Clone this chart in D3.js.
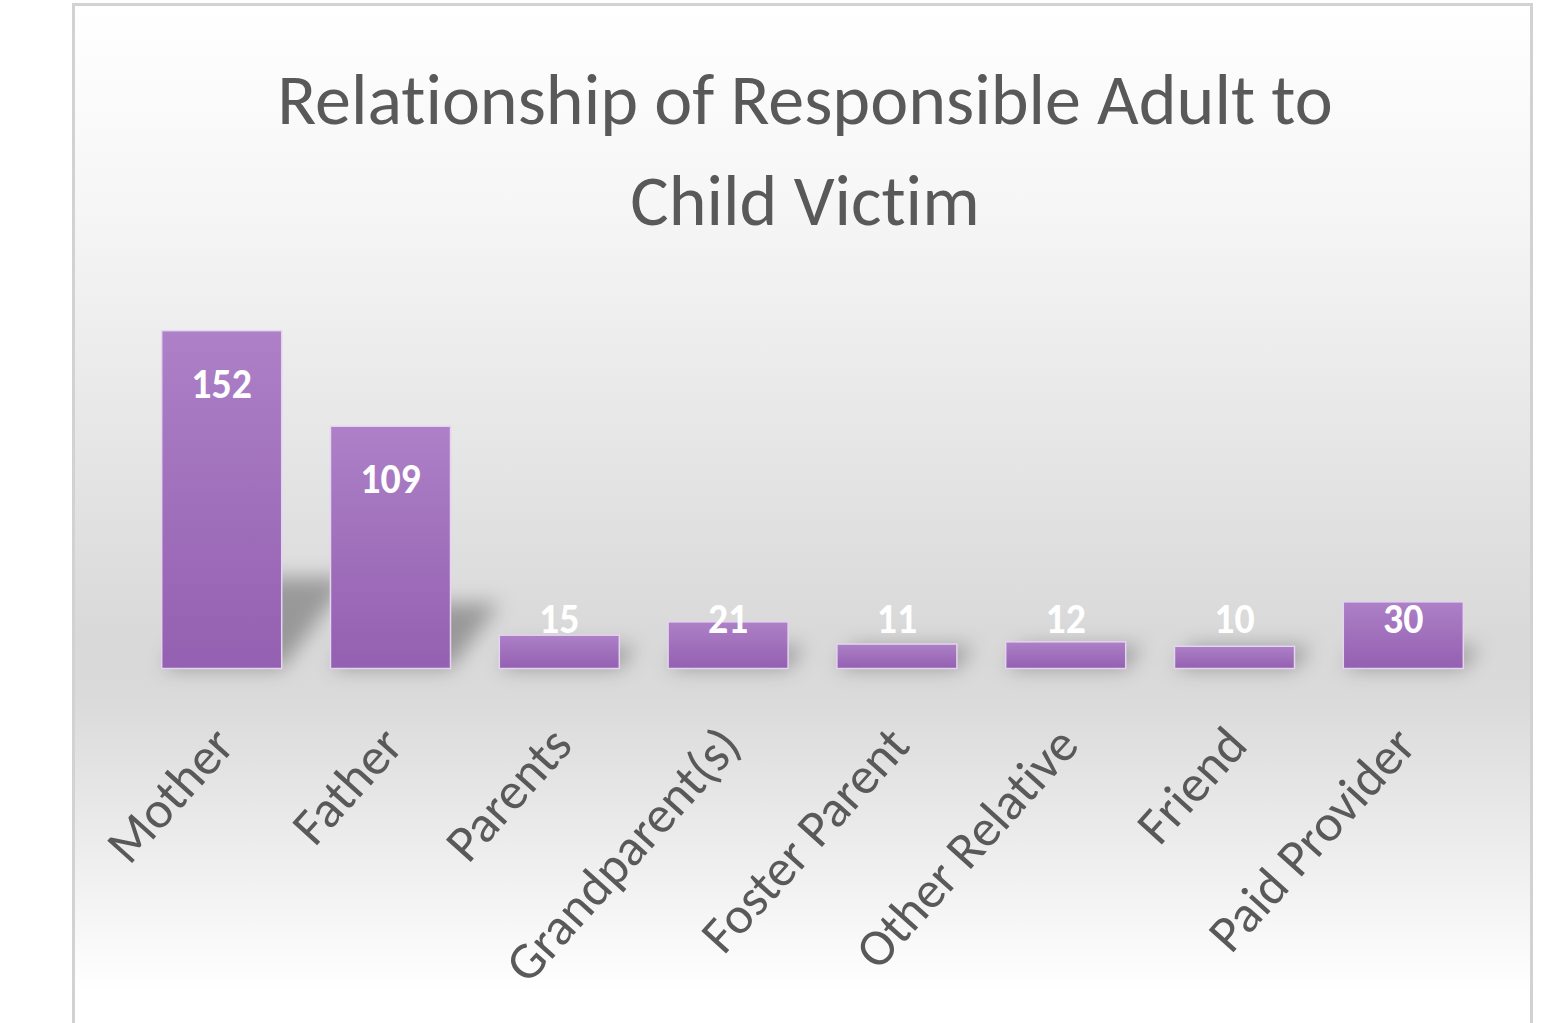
<!DOCTYPE html>
<html>
<head>
<meta charset="utf-8">
<script src="https://cdn.jsdelivr.net/npm/d3@7"></script>
<style>
  html, body { margin: 0; padding: 0; background: #ffffff; }
  svg { display: block; }
  text { font-variant-ligatures: none; font-feature-settings: "liga" 0, "clig" 0; }
</style>
</head>
<body>
<svg id="chart" width="1558" height="1023"></svg>
<script>
// Chart data
const categories = ["Mother", "Father", "Parents", "Grandparent(s)", "Foster Parent", "Other Relative", "Friend", "Paid Provider"];
const counts = [152, 109, 15, 21, 11, 12, 10, 30];
const titleLines = ["Relationship of Responsible Adult to", "Child Victim"];

const svg = d3.select("#chart");
const defs = svg.append("defs");

// Chart area background: soft vertical gray gradient
const bg = defs.append("linearGradient")
  .attr("id", "bgGrad").attr("gradientUnits", "userSpaceOnUse")
  .attr("x1", 0).attr("y1", 3).attr("x2", 0).attr("y2", 1023);
[[0, "#ffffff"], [0.2, "#f6f6f6"], [0.62, "#d9d9d9"], [0.68, "#dadada"], [0.97, "#ffffff"]]
  .forEach(([o, c]) => bg.append("stop").attr("offset", o).attr("stop-color", c));

// Bar fill: lighter lavender on top, deeper purple at the bottom
const barGrad = defs.append("linearGradient")
  .attr("id", "barGrad").attr("x1", 0).attr("y1", 0).attr("x2", 0).attr("y2", 1);
barGrad.append("stop").attr("offset", 0).attr("stop-color", "#ad80c7");
barGrad.append("stop").attr("offset", 1).attr("stop-color", "#9460b1");

// Blur for the perspective shadows cast behind the bars
defs.append("filter").attr("id", "shadowBlur")
  .attr("x", "-50%").attr("y", "-50%").attr("width", "200%").attr("height", "200%")
  .append("feGaussianBlur").attr("stdDeviation", 10);

svg.append("rect")
  .attr("x", 73.5).attr("y", 4.5).attr("width", 1458).attr("height", 1030)
  .attr("fill", "url(#bgGrad)")
  .attr("stroke", "#d2d2d2").attr("stroke-width", 3);

// Scales
const x = d3.scaleBand()
  .domain(categories)
  .range([137.3, 1487.7])
  .paddingInner(0.289)
  .paddingOuter(0.1445);

const y = d3.scaleLinear().domain([0, 160]).range([668.5, 312.9]);

// Shadows
svg.append("g").attr("filter", "url(#shadowBlur)")
  .selectAll("path").data(counts).join("path")
  .attr("d", (d, i) => {
    const x0 = x(categories[i]), x1 = x0 + x.bandwidth();
    const base = y(0);
    const h = base - y(d);
    const sh = Math.max(h * 0.27, 22);
    const s = sh * 0.75;
    return `M${x0},${base}L${x1},${base}L${x1 + s},${base - sh}L${x0 + s},${base - sh}Z`;
  })
  .attr("fill", "#000").attr("fill-opacity", 0.3);

// Bars
svg.append("g").selectAll("rect").data(counts).join("rect")
  .attr("x", (d, i) => x(categories[i]))
  .attr("y", d => y(d))
  .attr("width", x.bandwidth())
  .attr("height", d => y(0) - y(d))
  .attr("fill", "url(#barGrad)")
  .attr("stroke", "#e4d4ef").attr("stroke-width", 1.5);

// Value labels, placed just inside the top of each bar
const labelFloor = y(0) - 36;
svg.append("g").selectAll("text").data(counts).join("text")
  .attr("transform", (d, i) => {
    const cx = x(categories[i]) + x.bandwidth() / 2;
    const by = Math.min(y(d) + 67, labelFloor);
    return `translate(${cx},${by}) scale(0.95,1)`;
  })
  .attr("text-anchor", "middle")
  .attr("font-family", "Carlito, Calibri, Lato, sans-serif")
  .attr("font-weight", 700)
  .attr("font-size", 42)
  .attr("fill", "#ffffff")
  .text(d => d);

// Category labels, rotated
svg.append("g").selectAll("text").data(categories).join("text")
  .attr("transform", d => `translate(${x(d) + x.bandwidth() / 2 + 15},${747}) rotate(-48)`)
  .attr("text-anchor", "end")
  .attr("font-family", "Carlito, Calibri, Lato, sans-serif")
  .attr("font-size", 52)
  .attr("fill", "#595959")
  .text(d => d);

// Title
svg.append("g").selectAll("text").data(titleLines).join("text")
  .attr("x", 805)
  .attr("y", (d, i) => 124 + i * 101)
  .attr("text-anchor", "middle")
  .attr("font-family", "Carlito, Calibri, Lato, sans-serif")
  .attr("font-size", 72)
  .attr("fill", "#595959")
  .text(d => d);
</script>
</body>
</html>
